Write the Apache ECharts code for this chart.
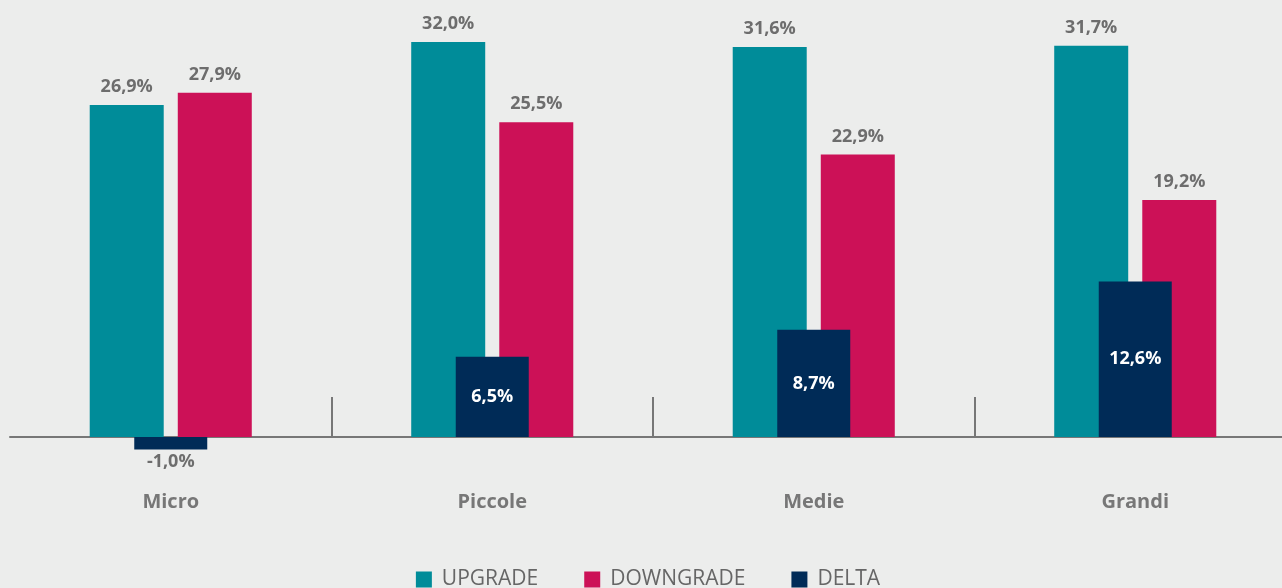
<!DOCTYPE html>
<html>
<head>
<meta charset="utf-8">
<script src="https://cdn.jsdelivr.net/npm/echarts@6/dist/echarts.min.js"></script>
<style>
html,body{margin:0;padding:0;background:#ECEDEC;overflow:hidden;}
#chart{width:1296px;height:588px;}
</style>
</head>
<body>
<div id="chart"></div>
<script>
const categories = ['Micro', 'Piccole', 'Medie', 'Grandi'];
const upgrade = [26.9, 32.0, 31.6, 31.7];
const downgrade = [27.9, 25.5, 22.9, 19.2];
const delta = [-1.0, 6.5, 8.7, 12.6];
const seriesNames = ['UPGRADE', 'DOWNGRADE', 'DELTA'];

const fmt = v => v.toFixed(1).replace('.', ',') + '%';
const FONT = '"Open Sans", sans-serif';
const labelStyle = {
  show: true, position: 'top', distance: 9,
  fontFamily: FONT, fontSize: 18, fontWeight: 'bold', color: '#6d6d6d',
  formatter: p => fmt(p.value)
};

const chart = echarts.init(document.getElementById('chart'));
chart.setOption({
  backgroundColor: '#ECEDEC',
  animation: false,
  grid: { left: 10, right: 0, top: 17.4, height: 444.4 },
  legend: {
    data: seriesNames, top: 564, left: 'center',
    icon: 'rect', itemWidth: 16, itemHeight: 16, itemGap: 46,
    textStyle: { fontFamily: FONT, fontSize: 21, color: '#666', padding: [0, 0, 0, 5] }
  },
  xAxis: [{
    type: 'category', data: categories,
    axisLine: { onZero: true, lineStyle: { color: '#777', width: 2 } },
    axisTick: { show: true, inside: true, length: 40, lineStyle: { color: '#777', width: 2 },
      interval: (i) => i !== 0 },
    axisLabel: { margin: 30, fontFamily: FONT, fontSize: 20, fontWeight: 'bold', color: '#777' }
  }, {
    type: 'category', data: categories, show: false
  }],
  yAxis: { type: 'value', min: -2, max: 34, show: false, splitLine: { show: false } },
  series: [{
    name: seriesNames[0], type: 'bar', data: upgrade, xAxisIndex: 0,
    barWidth: 74, barGap: '19%', itemStyle: { color: '#008C99' }, label: labelStyle
  }, {
    name: seriesNames[1], type: 'bar', data: downgrade, xAxisIndex: 0,
    barWidth: 74, barGap: '19%', itemStyle: { color: '#CC1157' }, label: labelStyle
  }, {
    name: seriesNames[2], type: 'bar', xAxisIndex: 1, z: 3,
    barWidth: 73, itemStyle: { color: '#002B57' },
    label: {
      show: true, fontFamily: FONT, fontSize: 18, fontWeight: 'bold',
      formatter: p => fmt(p.value)
    },
    data: delta.map(v => v < 0
      ? { value: v, label: { position: 'bottom', distance: 3, color: '#6d6d6d' } }
      : { value: v, label: { position: 'inside', color: '#ffffff' } })
  }]
});
</script>
</body>
</html>
